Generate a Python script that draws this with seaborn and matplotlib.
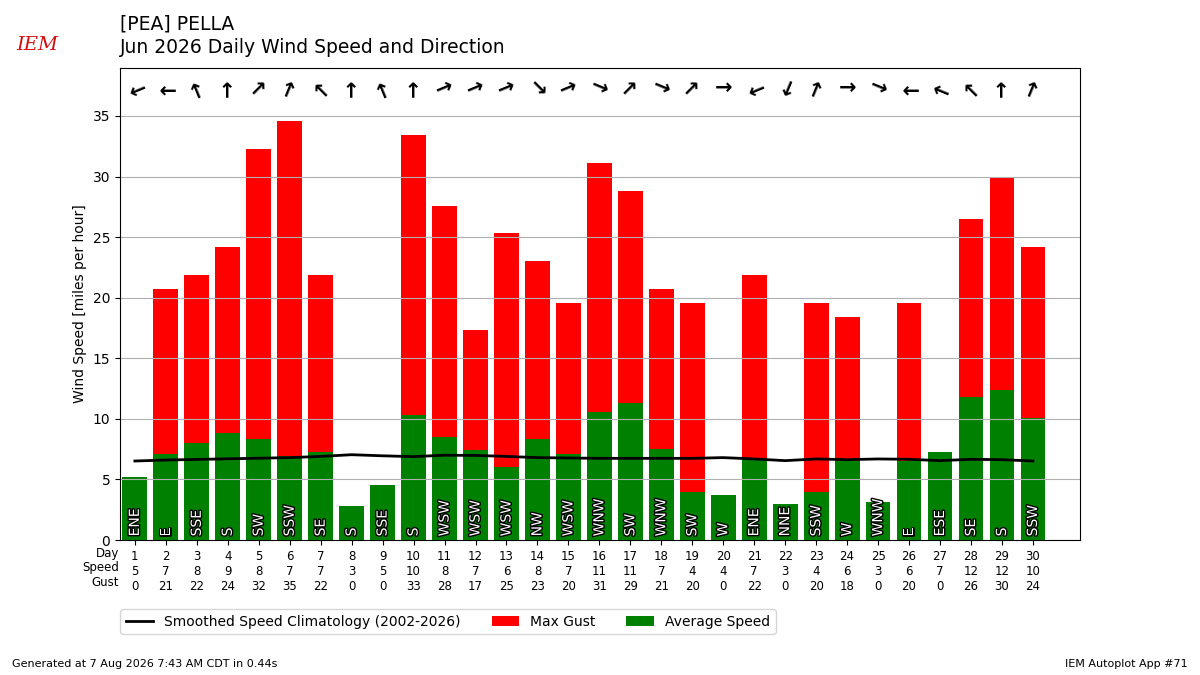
import numpy as np
import pandas as pd
import matplotlib
matplotlib.use("Agg")
import matplotlib.pyplot as plt
import matplotlib.patheffects as pe
import seaborn as sns

days = list(range(1, 31))
avg_speed = [5.2, 7.1, 8.0, 8.8, 8.3, 6.9, 7.3, 2.8, 4.5, 10.3,
             8.5, 7.4, 6.0, 8.3, 7.1, 10.6, 11.3, 7.5, 4.0, 3.7,
             6.8, 3.0, 4.0, 6.5, 3.1, 6.5, 7.3, 11.8, 12.4, 10.1]
max_gust = [0, 20.7, 21.9, 24.2, 32.3, 34.6, 21.9, 0, 0, 33.4,
            27.6, 17.3, 25.3, 23.0, 19.6, 31.1, 28.8, 20.7, 19.6, 0,
            21.9, 0, 19.6, 18.4, 0, 19.6, 0, 26.5, 30.0, 24.2]
speed_lbl = [5, 7, 8, 9, 8, 7, 7, 3, 5, 10, 8, 7, 6, 8, 7, 11, 11, 7, 4, 4,
             7, 3, 4, 6, 3, 6, 7, 12, 12, 10]
gust_lbl = [0, 21, 22, 24, 32, 35, 22, 0, 0, 33, 28, 17, 25, 23, 20, 31, 29, 21, 20, 0,
            22, 0, 20, 18, 0, 20, 0, 26, 30, 24]
directions = ["ENE", "E", "SSE", "S", "SW", "SSW", "SE", "S", "SSE", "S",
              "WSW", "WSW", "WSW", "NW", "WSW", "WNW", "SW", "WNW", "SW", "W",
              "ENE", "NNE", "SSW", "W", "WNW", "E", "ESE", "SE", "S", "SSW"]
climo = [6.52, 6.6, 6.65, 6.7, 6.75, 6.8, 6.9, 7.04, 6.95, 6.88,
         7.0, 6.98, 6.9, 6.8, 6.77, 6.74, 6.74, 6.74, 6.74, 6.8,
         6.69, 6.55, 6.69, 6.63, 6.69, 6.66, 6.55, 6.66, 6.63, 6.52]

compass = ["N", "NNE", "NE", "ENE", "E", "ESE", "SE", "SSE",
           "S", "SSW", "SW", "WSW", "W", "WNW", "NW", "NNW"]

df = pd.DataFrame({"day": [str(d) for d in days], "avg": avg_speed,
                   "gust": max_gust, "climo": climo})

fig = plt.figure(figsize=(12, 6.75), dpi=100)
ax = fig.add_axes([0.1, 0.2, 0.8, 0.7])

sns.barplot(data=df, x="day", y="gust", color="red", saturation=1,
            width=0.8, label="Max Gust", ax=ax)
sns.barplot(data=df, x="day", y="avg", color="green", saturation=1,
            width=0.8, label="Average Speed", ax=ax)
sns.lineplot(x=np.arange(len(days)), y=df["climo"], color="k", lw=2,
             label="Smoothed Speed Climatology (2002-2026)", ax=ax)

# direction names inside the bars, arrows along the top
for i, d in enumerate(directions):
    ax.text(i, 0.3, d, rotation=90, ha="center", va="bottom", color="white",
            fontsize=10,
            path_effects=[pe.withStroke(linewidth=2, foreground="k")])
    deg = compass.index(d) * 22.5
    rot = (90 - (deg + 180)) % 360
    ax.text(i, 37.3, "\u2192", rotation=rot, rotation_mode="anchor",
            ha="center", va="center", fontsize=15, weight="bold")

ax.set_xlim(-0.48, 30.52)
ax.set_ylim(0, 39)
ax.set_yticks(range(0, 36, 5))
ax.yaxis.grid(True)
ax.xaxis.grid(False)
ax.set_xticks(range(len(days)))
ax.set_xticklabels([f"{d}\n{s}\n{g}" for d, s, g in zip(days, speed_lbl, gust_lbl)],
                   fontsize=8.5)
ax.set_xlabel("")
ax.set_ylabel("Wind Speed [miles per hour]")
for sp in ax.spines.values():
    sp.set_visible(True)
    sp.set_color("k")

for j, lbl in enumerate(["Day", "Speed", "Gust"]):
    fig.text(0.099, 1 - (554 + 14 * j) / 675, lbl, ha="right", va="center",
             fontsize=8.5)

if ax.get_legend():
    ax.get_legend().remove()
h, l = ax.get_legend_handles_labels()
order = [l.index("Smoothed Speed Climatology (2002-2026)"),
         l.index("Max Gust"), l.index("Average Speed")]
fig.legend([h[k] for k in order], [l[k] for k in order], ncol=3,
           loc="upper left", bbox_to_anchor=(0.1, 1 - 609 / 675),
           borderaxespad=0, columnspacing=2.2, fontsize=10)

fig.text(0.1, 1 - 14 / 675, "[PEA] PELLA\nJun 2026 Daily Wind Speed and Direction",
         ha="left", va="top", fontsize=13.5, linespacing=1.35)
fig.text(0.031, 1 - 45 / 675, "IEM", color="#d01010", fontsize=14,
         family="serif", style="italic", ha="center", va="center")
fig.text(0.01, 1 - 664 / 675, "Generated at 7 Aug 2026 7:43 AM CDT in 0.44s",
         fontsize=8, va="center")
fig.text(0.99, 1 - 664 / 675, "IEM Autoplot App #71", fontsize=8,
         ha="right", va="center")

fig.savefig("out.png", dpi=100)
